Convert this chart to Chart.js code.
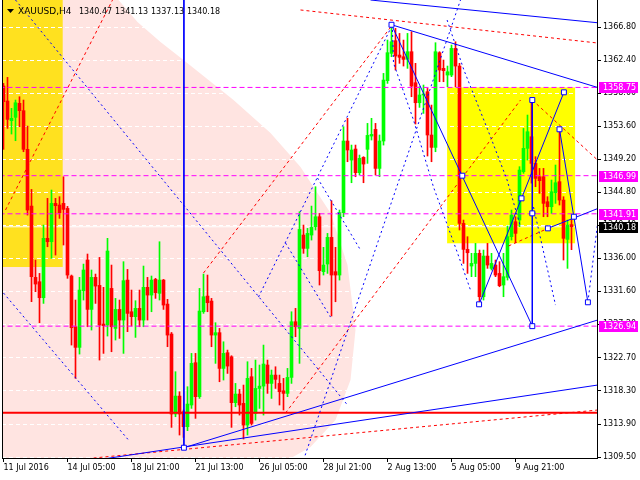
<!DOCTYPE html>
<html>
<head>
<meta charset="utf-8">
<script src="https://cdn.jsdelivr.net/npm/chart.js@4.4.1/dist/chart.umd.min.js"></script>
<style>
html, body { margin: 0; padding: 0; background: #fff; }
canvas { display: block; }
</style>
</head>
<body>
<canvas id="chart" width="640" height="480"></canvas>
<script>
// XAUUSD H4 candles, 11 Jul - 12 Aug 2016 (index = bar number)
const opens = [
  1358.94, 1356.94, 1354.32, 1354.76, 1356.63, 1355.65, 1350.50, 1342.94, 1333.44, 1332.86,
  1330.73, 1338.64, 1338.19, 1343.30, 1343.08, 1343.30, 1342.63, 1333.62, 1326.86, 1324.11,
  1331.66, 1335.75, 1329.17, 1333.44, 1332.37, 1327.22, 1327.09, 1331.97, 1326.64, 1329.17,
  1327.75, 1333.08, 1328.86, 1328.20, 1329.31, 1327.75, 1332.11, 1331.08, 1333.17, 1331.31,
  1333.08, 1329.88, 1325.89, 1315.23, 1317.62, 1315.54, 1313.54, 1316.43, 1322.07, 1317.54,
  1328.86, 1330.95, 1330.28, 1325.75, 1326.07, 1321.31, 1323.40, 1322.86, 1316.74, 1317.89,
  1316.65, 1313.76, 1320.20, 1315.31, 1318.64, 1318.95, 1321.76, 1319.31, 1320.42, 1319.31,
  1318.33, 1317.98, 1320.11, 1327.53, 1326.64, 1339.08, 1337.30, 1339.08, 1340.19, 1341.52,
  1334.20, 1335.22, 1338.77, 1334.20, 1333.75, 1342.06, 1351.61, 1349.07, 1350.54, 1347.39,
  1349.43, 1350.50, 1352.27, 1353.16, 1347.96, 1351.61, 1359.65, 1363.29, 1364.98, 1363.07,
  1362.84, 1362.49, 1363.51, 1359.38, 1356.71, 1357.74, 1358.18, 1352.41, 1350.76, 1363.38,
  1361.29, 1360.40, 1360.40, 1363.95, 1361.60, 1340.63, 1337.17, 1334.95, 1335.30, 1336.64,
  1330.86, 1336.28, 1334.64, 1335.08, 1333.97, 1332.42, 1333.44, 1338.86, 1340.86, 1341.08,
  1347.52, 1350.63, 1352.18, 1348.63, 1346.85, 1346.85, 1343.52, 1342.85, 1344.72, 1346.19,
  1343.74, 1338.50, 1340.47
];
const highs = [
  1359.29, 1360.09, 1355.96, 1357.07, 1357.51, 1357.07, 1353.60, 1345.16, 1335.75, 1333.97,
  1340.41, 1343.97, 1345.08, 1343.97, 1344.19, 1346.85, 1342.90, 1333.75, 1330.42, 1333.44,
  1335.21, 1336.55, 1334.42, 1333.88, 1336.10, 1332.11, 1338.64, 1335.08, 1330.64, 1330.42,
  1335.53, 1334.50, 1331.75, 1330.33, 1331.75, 1334.95, 1333.44, 1333.62, 1333.31, 1338.19,
  1333.17, 1330.51, 1326.10, 1320.87, 1318.20, 1315.76, 1318.87, 1323.31, 1323.31, 1331.97,
  1333.88, 1333.75, 1330.64, 1327.40, 1326.64, 1324.86, 1323.75, 1323.00, 1319.31, 1318.51,
  1319.09, 1322.20, 1321.31, 1322.42, 1321.76, 1324.42, 1322.42, 1321.09, 1321.53, 1320.42,
  1319.98, 1321.31, 1328.86, 1329.31, 1342.19, 1340.41, 1339.97, 1342.94, 1345.52, 1341.97,
  1337.44, 1339.30, 1343.65, 1337.44, 1342.41, 1353.52, 1354.63, 1351.07, 1351.07, 1349.74,
  1349.52, 1353.96, 1354.63, 1353.96, 1352.41, 1360.62, 1365.06, 1367.06, 1366.62, 1365.95,
  1365.06, 1365.95, 1366.18, 1361.96, 1358.85, 1359.07, 1358.62, 1356.40, 1364.71, 1363.51,
  1362.40, 1361.60, 1364.40, 1364.84, 1361.96, 1341.08, 1338.86, 1336.64, 1337.97, 1337.08,
  1337.08, 1337.97, 1336.64, 1335.75, 1335.53, 1336.64, 1340.28, 1342.41, 1341.52, 1348.19,
  1353.29, 1355.07, 1357.07, 1349.52, 1347.96, 1347.96, 1344.19, 1346.41, 1348.41, 1353.07,
  1344.19, 1341.08, 1341.13
];
const lows = [
  1350.50, 1353.29, 1352.54, 1351.65, 1353.52, 1350.18, 1341.74, 1330.20, 1331.53, 1327.40,
  1329.97, 1337.52, 1335.97, 1336.41, 1341.30, 1337.75, 1333.31, 1324.42, 1319.98, 1323.22,
  1330.42, 1326.86, 1326.42, 1329.97, 1322.42, 1323.31, 1325.62, 1323.53, 1325.09, 1325.31,
  1323.31, 1326.20, 1326.95, 1325.44, 1326.86, 1326.86, 1327.75, 1328.86, 1330.64, 1330.42,
  1329.17, 1324.20, 1313.45, 1314.87, 1312.43, 1312.12, 1313.01, 1315.98, 1314.65, 1317.31,
  1328.64, 1328.86, 1324.20, 1321.98, 1319.53, 1319.76, 1320.64, 1313.45, 1316.20, 1315.09,
  1311.90, 1312.43, 1313.76, 1314.42, 1315.98, 1315.09, 1317.98, 1317.31, 1318.64, 1316.43,
  1315.76, 1317.54, 1319.31, 1325.53, 1321.98, 1336.64, 1336.19, 1338.41, 1339.75, 1332.42,
  1333.75, 1333.97, 1328.29, 1330.19, 1333.08, 1341.52, 1348.85, 1346.05, 1346.85, 1347.08,
  1346.05, 1348.63, 1351.74, 1347.08, 1346.85, 1351.07, 1359.29, 1362.84, 1361.07, 1361.96,
  1361.60, 1361.29, 1357.51, 1353.87, 1356.09, 1355.29, 1349.61, 1348.85, 1350.18, 1359.51,
  1359.51, 1358.85, 1360.18, 1358.85, 1339.75, 1335.30, 1333.97, 1333.53, 1333.53, 1330.19,
  1330.42, 1334.64, 1334.42, 1333.53, 1332.19, 1330.86, 1333.08, 1338.41, 1338.06, 1340.19,
  1347.30, 1349.07, 1346.00, 1345.52, 1344.63, 1341.52, 1341.52, 1341.96, 1343.30, 1343.08,
  1335.75, 1334.64, 1337.13
];
const closes = [
  1356.85, 1354.49, 1354.63, 1356.71, 1355.65, 1350.50, 1342.41, 1333.53, 1332.55, 1330.73,
  1338.64, 1338.19, 1343.30, 1342.99, 1342.06, 1342.50, 1333.75, 1326.73, 1324.11, 1331.75,
  1334.42, 1329.17, 1333.44, 1332.28, 1327.09, 1327.00, 1336.95, 1326.86, 1329.17, 1327.75,
  1333.00, 1328.64, 1328.20, 1329.31, 1327.75, 1332.11, 1331.08, 1333.08, 1331.40, 1333.08,
  1329.75, 1325.75, 1315.23, 1317.62, 1315.23, 1313.54, 1316.56, 1321.98, 1317.54, 1328.95,
  1330.86, 1330.06, 1325.75, 1326.07, 1321.31, 1323.31, 1321.62, 1316.74, 1317.89, 1316.43,
  1313.76, 1319.98, 1313.98, 1318.64, 1318.95, 1321.89, 1319.31, 1320.42, 1319.85, 1318.20,
  1317.98, 1320.11, 1327.53, 1326.86, 1339.83, 1337.30, 1339.30, 1340.10, 1341.52, 1334.33,
  1335.08, 1338.77, 1333.75, 1333.75, 1342.06, 1351.61, 1350.41, 1350.41, 1347.39, 1349.30,
  1348.54, 1352.36, 1352.49, 1347.96, 1351.61, 1359.73, 1363.38, 1364.84, 1362.93, 1362.76,
  1362.49, 1363.51, 1358.93, 1356.71, 1357.74, 1357.87, 1352.41, 1350.76, 1363.51, 1361.07,
  1360.98, 1360.84, 1363.95, 1361.60, 1340.63, 1337.17, 1336.72, 1335.30, 1336.64, 1330.86,
  1336.28, 1335.08, 1335.30, 1333.75, 1332.33, 1333.53, 1338.86, 1341.74, 1339.30, 1347.74,
  1350.63, 1352.85, 1348.63, 1346.63, 1346.32, 1343.30, 1342.85, 1344.85, 1346.05, 1343.74,
  1338.64, 1340.41, 1340.18
];

// time axis
const timeLabels = ['11 Jul 2016', '14 Jul 05:00', '18 Jul 21:00', '21 Jul 13:00', '26 Jul 05:00',
                    '28 Jul 21:00', '2 Aug 13:00', '5 Aug 05:00', '9 Aug 21:00'];
const timeLabelBars = [0, 16, 32, 48, 64, 80, 96, 112, 128];

// price axis
const priceTicks = [1366.80, 1362.40, 1358.00, 1353.60, 1349.20, 1344.80, 1340.40,
                    1336.00, 1331.60, 1327.20, 1322.70, 1318.30, 1313.90, 1309.50];
const priceTickLabels = ['1366.80', '1362.40', '1358.00', '1353.60', '1349.20', '1344.80', '1340.40',
                         '1336.00', '1331.60', '1327.20', '1322.70', '1318.30', '1313.90', '1309.50'];

// header
const headerParts = ['XAUUSD,H4', '1340.47', '1341.13', '1337.13', '1340.18'];

// horizontal levels
const magentaLevels = [1358.75, 1346.99, 1341.91, 1326.94];
const redLevel = 1315.40;
const bidPrice = 1340.18;

// shaded areas [bar from, bar to, price low, price high]
const goldBox = [-0.3, 14.8, 1334.82, 1372];
const yellowBox = [110.9, 142.9, 1337.98, 1358.75];
// pink ellipse outline (bar, price)
const pinkBars   = [-2, 28.75, 33.5, 39.25, 45, 57.5, 66.75, 74.25, 81.75, 86, 88, 86.75, 83, 76.75, 71, 69, -2];
const pinkPrices = [1372, 1370.4, 1367.47, 1364.8, 1362.4, 1357.07, 1352.67, 1348.14, 1342.01, 1335.08,
                    1326.42, 1319.76, 1314.43, 1310.83, 1309.1, 1308, 1308];

// trend lines (bar, price)
const blueSolid = [
  [[97, 1367.1], [148.5, 1358.75]],
  [[97, 1367.1], [132.2, 1326.94]],
  [[91.75, 1370.4], [148.5, 1367.37]],
  [[45.1, 1371], [45.1, 1310.74]],
  [[132.2, 1357.07], [132.2, 1326.94]],
  [[118.9, 1329.85], [140.1, 1358.10]],
  [[139.0, 1353.17], [146.1, 1330.12]],
  [[136.1, 1339.97], [148.5, 1342.6]],
  [[45.1, 1310.74], [148.5, 1327.75]],
  [[23.25, 1309.1], [148.5, 1319.09]]
];
const blueDotted = [
  [[3, 1370.4], [86, 1316.43]],
  [[0, 1331.35], [31.25, 1311.76]],
  [[63.75, 1330.82], [97.2, 1367.07]],
  [[70.5, 1338.02], [81.75, 1328.15]],
  [[78.5, 1346.68], [89.25, 1337.08]],
  [[75, 1309.1], [114.25, 1370.4]],
  [[97.2, 1367.07], [97.5, 1362.0], [102.5, 1354.41], [107.5, 1345.47], [113.5, 1336.69], [116.75, 1331.75]],
  [[110.9, 1367.73], [115.1, 1361.07], [121.75, 1352.18], [125.9, 1346.41], [129.25, 1340.19]],
  [[132.5, 1342.81], [138, 1329.75]],
  [[146.1, 1330.12], [148.5, 1340.5]]
];
const redDotted = [
  [[0.5, 1342.42], [27.25, 1370.4]],
  [[50, 1334.02], [97.2, 1367.07]],
  [[70.5, 1315.36], [129.25, 1357.07]],
  [[132.2, 1357.07], [148.5, 1349.08]],
  [[126.25, 1337.62], [136.1, 1339.97]],
  [[74.25, 1369.07], [148.5, 1364.67]],
  [[22.5, 1309.37], [148.5, 1315.76]]
];
const anchorPoints = [
  [97, 1367.1], [114.7, 1346.99], [132.2, 1326.94], [132.2, 1357.07], [132.2, 1341.97],
  [118.9, 1329.85], [140.1, 1358.10], [129.5, 1343.97], [136.1, 1339.97], [139.0, 1353.17],
  [142.6, 1341.52], [146.1, 1330.12], [45.1, 1310.74]
];

const UP = '#00FF00', DOWN = '#FF0000';
const candleColor = ctx => closes[ctx.dataIndex] >= opens[ctx.dataIndex] ? UP : DOWN;

function lineSet(points, color, dash, width, order) {
  return {
    type: 'line',
    data: points.map(p => ({x: p[0], y: p[1]})),
    borderColor: color,
    borderDash: dash,
    borderWidth: width,
    pointRadius: 0,
    fill: false,
    tension: 0,
    clip: 0,
    order: order
  };
}

const datasets = [];
datasets.push(lineSet([[-1, bidPrice], [149, bidPrice]], '#FFFFFF', [], 1, 30));
datasets.push({
  type: 'bar',
  data: lows.map((l, k) => ({x: k, y: [l, highs[k]]})),
  backgroundColor: candleColor,
  barThickness: 1,
  grouped: false,
  order: 21
});
datasets.push({
  type: 'bar',
  data: opens.map((o, k) => ({x: k, y: [o, closes[k]]})),
  backgroundColor: candleColor,
  barThickness: 3,
  minBarLength: 1,
  grouped: false,
  order: 20
});
magentaLevels.forEach(v => datasets.push(lineSet([[-1, v], [149, v]], '#FF00FF', [5, 3], 1, 8)));
datasets.push(lineSet([[-1, redLevel], [149, redLevel]], '#FF0000', [], 2, 7));
redDotted.forEach(l => datasets.push(lineSet(l, '#FF0000', [3, 3], 1, 6)));
blueDotted.forEach(l => datasets.push(lineSet(l, '#0000FF', [2, 3], 1, 5)));
blueSolid.forEach(l => datasets.push(lineSet(l, '#0000FF', [], 1, 4)));
datasets.push({
  type: 'line',
  data: anchorPoints.map(p => ({x: p[0], y: p[1]})),
  showLine: false,
  pointStyle: 'rect',
  pointRadius: 3.5,
  pointBackgroundColor: '#FFFFFF',
  pointBorderColor: '#0000FF',
  pointBorderWidth: 1,
  clip: 0,
  order: 1
});

// background shapes, drawn under the grid
const backdrop = {
  id: 'backdrop',
  beforeDraw(chart) {
    const {ctx, chartArea: a, scales: {x, y}} = chart;
    ctx.save();
    ctx.fillStyle = '#FFFFFF';
    ctx.fillRect(0, 0, chart.width, chart.height);
    ctx.beginPath();
    ctx.rect(a.left, a.top, a.right - a.left, a.bottom - a.top);
    ctx.clip();
    ctx.fillStyle = '#FFE4E1';
    ctx.beginPath();
    pinkBars.forEach((b, k) => {
      const px = x.getPixelForValue(b), py = y.getPixelForValue(pinkPrices[k]);
      if (k) ctx.lineTo(px, py); else ctx.moveTo(px, py);
    });
    ctx.closePath();
    ctx.fill();
    [[goldBox, '#FFE11F'], [yellowBox, '#FFFF00']].forEach(([b, c]) => {
      const x0 = x.getPixelForValue(b[0]), x1 = x.getPixelForValue(b[1]);
      const y0 = y.getPixelForValue(b[3]), y1 = y.getPixelForValue(b[2]);
      ctx.fillStyle = c;
      ctx.fillRect(x0, y0, x1 - x0, y1 - y0);
    });
    ctx.restore();
  },
  afterDraw(chart) {
    const {ctx, chartArea: a, scales: {y}} = chart;
    ctx.save();
    // left frame
    ctx.strokeStyle = '#000';
    ctx.lineWidth = 1;
    ctx.beginPath();
    ctx.moveTo(a.left + 0.5, 0);
    ctx.lineTo(a.left + 0.5, a.bottom);
    ctx.stroke();
    // price tags on the axis
    ctx.font = '8px "DejaVu Sans"';
    ctx.textBaseline = 'middle';
    ctx.textAlign = 'left';
    const tags = magentaLevels.map(v => [v, '#FF00FF']).concat([[bidPrice, '#000000']]);
    tags.forEach(([v, c]) => {
      const py = Math.round(y.getPixelForValue(v));
      ctx.fillStyle = c;
      ctx.fillRect(a.right + 2, py - 5, 39, 11);
      ctx.fillStyle = '#FFFFFF';
      ctx.fillText(v.toFixed(2), a.right + 6, py + 0.5);
    });
    // header
    ctx.fillStyle = '#000';
    ctx.beginPath();
    ctx.moveTo(7, 9); ctx.lineTo(14, 9); ctx.lineTo(10.5, 13);
    ctx.closePath();
    ctx.fill();
    const hx = [18, 79, 115, 151, 187];
    headerParts.forEach((t, k) => {
      ctx.font = (k ? '8px' : '9px') + ' "DejaVu Sans"';
      ctx.fillText(t, hx[k], 11.5);
    });
    ctx.restore();
  }
};

Chart.defaults.font.family = '"DejaVu Sans"';
Chart.defaults.font.size = 8;
Chart.defaults.color = '#000';

new Chart(document.getElementById('chart'), {
  type: 'bar',
  data: {datasets},
  options: {
    responsive: false,
    animation: false,
    events: [],
    layout: {autoPadding: false, padding: {left: 2, right: 0, top: 0, bottom: 0}},
    plugins: {legend: {display: false}, tooltip: {enabled: false}},
    scales: {
      x: {
        type: 'linear',
        min: -0.375,
        max: 148.375,
        offset: false,
        afterFit: s => { s.height = 22; s.paddingLeft = 0; s.paddingRight = 0; },
        afterBuildTicks: s => { s.ticks = timeLabelBars.map(v => ({value: v})); },
        ticks: {
          autoSkip: false,
          maxRotation: 0,
          align: 'start',
          padding: 1,
          callback: (v, i) => timeLabels[i]
        },
        grid: {offset: false, drawOnChartArea: false, drawTicks: true, tickLength: 4, tickColor: '#000'},
        border: {color: '#000', width: 1}
      },
      y: {
        type: 'linear',
        position: 'right',
        min: 1309.37,
        max: 1370.40,
        afterFit: s => { s.width = 43; s.paddingTop = 0; s.paddingBottom = 0; },
        afterBuildTicks: s => { s.ticks = priceTicks.map(v => ({value: v})); },
        ticks: {padding: 2, callback: (v, i) => priceTickLabels[i]},
        grid: {color: '#FFFFFF', lineWidth: 1, drawTicks: true, tickLength: 4, tickColor: '#000'},
        border: {color: '#000', width: 1, dash: [4, 3]}
      }
    }
  },
  plugins: [backdrop]
});
</script>
</body>
</html>
